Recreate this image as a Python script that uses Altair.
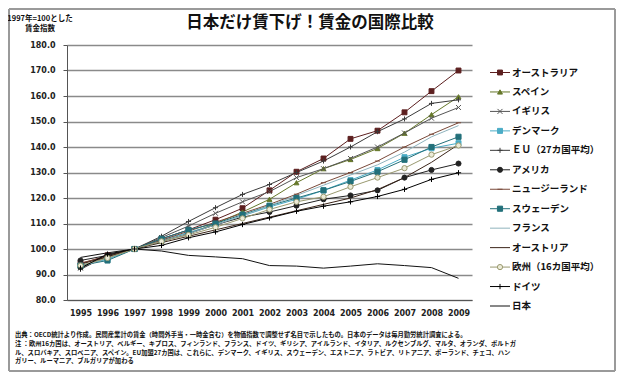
import altair as alt
import pandas as pd

years = [1995, 1996, 1997, 1998, 1999, 2000, 2001, 2002, 2003, 2004, 2005, 2006, 2007, 2008, 2009]

series = ["オーストラリア", "スペイン", "イギリス", "デンマーク", "ＥＵ（27カ国平均）", "アメリカ",
          "ニュージーランド", "スウェーデン", "フランス", "オーストリア", "欧州（16カ国平均）", "ドイツ", "日本"]

australia = [94.2, 97.5, 100, 104.0, 107.5, 111.5, 116.0, 123.0, 130.3, 135.5, 143.2, 146.4, 153.6, 161.9, 170.0]
spain     = [93.0, 96.5, 100, 103.0, 106.0, 110.0, 114.5, 119.5, 126.0, 131.5, 135.1, 139.4, 145.4, 152.7, 159.7]
uk        = [92.5, 97.0, 100, 104.5, 109.0, 114.0, 118.5, 122.5, 128.0, 131.5, 135.5, 140.0, 145.5, 151.3, 155.5]
denmark   = [93.5, 96.0, 100, 103.5, 106.5, 109.5, 113.0, 116.5, 119.5, 123.0, 127.0, 131.0, 136.0, 139.5, 141.5]
eu27      = [92.0, 97.5, 100, 105.0, 110.8, 116.2, 121.4, 125.3, 130.0, 134.5, 140.0, 146.0, 151.0, 157.1, 158.5]
america   = [95.5, 97.5, 100, 103.0, 106.0, 109.5, 112.5, 114.5, 117.0, 119.5, 121.0, 123.0, 128.0, 131.0, 133.5]
nz        = [94.5, 97.0, 100, 103.5, 107.0, 110.5, 114.0, 117.5, 121.5, 126.0, 130.0, 134.5, 140.0, 145.0, 149.5]
sweden    = [93.5, 95.5, 100, 104.0, 107.5, 110.0, 113.5, 117.0, 120.0, 123.0, 126.5, 130.3, 135.0, 140.0, 144.0]
france    = [93.0, 96.5, 100, 103.0, 106.0, 109.5, 113.0, 117.0, 121.0, 125.0, 129.0, 133.0, 138.0, 144.0, 148.4]
austria   = [94.0, 97.0, 100, 102.5, 105.0, 107.5, 110.0, 112.5, 115.0, 117.5, 120.0, 123.3, 128.0, 134.0, 141.0]
europe16  = [93.5, 96.5, 100, 103.0, 105.5, 108.5, 112.0, 115.5, 118.5, 120.5, 124.4, 128.0, 131.7, 137.0, 140.6]
germany   = [92.5, 98.0, 100, 101.4, 104.4, 106.7, 109.6, 112.2, 114.8, 116.8, 118.5, 120.6, 123.4, 127.3, 129.9]
japan     = [96.7, 98.5, 100, 99.2, 97.5, 96.9, 96.2, 93.5, 93.3, 92.5, 93.3, 94.2, 93.5, 92.7, 88.5]

all_values = [australia, spain, uk, denmark, eu27, america, nz, sweden, france, austria, europe16, germany, japan]

colors = ["#5c1f1f", "#66782a", "#555555", "#4bacc6", "#3a3a3a", "#222222",
          "#7a4a3a", "#23707a", "#8fb3bd", "#3b2418", "#9a9a70", "#000000", "#111111"]
fills = ["#5c1f1f", "#66782a", "transparent", "#4bacc6", "transparent", "#222222",
         "transparent", "#23707a", "transparent", "transparent", "#ecebd8", "transparent", "transparent"]
XPATH = "M-1,-1L1,1M-1,1L1,-1"
PLUS = "M-1,0H1M0,-1V1"
DASH = "M-1,0H1"
NONE = "M0,0"
shapes = ["square", "triangle-up", XPATH, "square", PLUS, "circle",
          DASH, "square", NONE, NONE, "circle", PLUS, NONE]
widths = [1, 1, 1, 1, 1, 1, 1, 1, 1.1, 1.1, 1, 1.3, 1.6]
sizes = [24, 28, 22, 24, 22, 8, 22, 24, 1, 1, 22, 30, 1]
no_marker = ["フランス", "オーストリア", "日本"]

title = "日本だけ賃下げ！賃金の国際比較"
ytitle1 = "1997年=100とした"
ytitle2 = "賃金指数"
notes = [
    "出典：OECD統計より作成。民間産業計の賃金（時間外手当・一時金含む）を物価指数で調整せず名目で示したもの。日本のデータは毎月勤労統計調査による。",
    "注 ：欧州16カ国は、オーストリア、ベルギー、キプロス、フィンランド、フランス、ドイツ、ギリシア、アイルランド、イタリア、ルクセンブルグ、マルタ、オランダ、ポルトガ",
    "ル、スロバキア、スロベニア、スペイン。EU加盟27カ国は、これらに、デンマーク、イギリス、スウェーデン、エストニア、ラトビア、リトアニア、ポーランド、チェコ、ハン",
    "ガリー、ルーマニア、ブルガリアが加わる",
]

rows = []
for name, vals in zip(series, all_values):
    for y, v in zip(years, vals):
        rows.append({"series": name, "year": y, "value": v})
df = pd.DataFrame(rows)
pts_df = df[~df["series"].isin(no_marker)]
leg_df = pd.DataFrame({"series": series})

JP = "Noto Sans CJK JP"
color_s = alt.Scale(domain=series, range=colors)
fill_s = alt.Scale(domain=series, range=fills)
shape_s = alt.Scale(domain=series, range=shapes)
width_s = alt.Scale(domain=series, range=widths)
size_s = alt.Scale(domain=series, range=sizes)

xenc = alt.X("year:O", scale=alt.Scale(type="point", padding=0.5),
             axis=alt.Axis(title=None, labelAngle=0, grid=False, ticks=False, labelPadding=9,
                           labelFont="DejaVu Sans", labelFontWeight="bold", labelFontSize=8,
                           labelColor="#222", domainColor="#555", domainWidth=1))
yenc = alt.Y("value:Q", scale=alt.Scale(domain=[80, 180], nice=False),
             axis=alt.Axis(title=None, values=list(range(80, 181, 10)), format=".1f",
                           grid=True, gridColor="#8a8a8a", gridWidth=1.3,
                           domainColor="#555", tickColor="#555", tickSize=4, labelPadding=8,
                           labelFont="DejaVu Sans", labelFontWeight="bold", labelFontSize=8,
                           labelColor="#222"))

lines = alt.Chart(df).mark_line().encode(
    x=xenc, y=yenc,
    color=alt.Color("series:N", scale=color_s, legend=None),
    strokeWidth=alt.StrokeWidth("series:N", scale=width_s, legend=None),
    detail="series:N",
)
points = alt.Chart(pts_df).mark_point(filled=False, opacity=1, strokeWidth=1).encode(
    x=xenc, y=yenc,
    stroke=alt.Stroke("series:N", scale=color_s, legend=None),
    fill=alt.Fill("series:N", scale=fill_s, legend=None),
    shape=alt.Shape("series:N", scale=shape_s, legend=None),
    size=alt.Size("series:N", scale=size_s, legend=None),
)
main = alt.layer(lines, points)

ly = alt.Y("series:N", scale=alt.Scale(type="point", domain=series, range=[27.5, 261], padding=0), axis=None)
leg_rule = alt.Chart(leg_df).mark_rule().encode(
    x=alt.value(423), x2=alt.value(443), y=ly,
    color=alt.Color("series:N", scale=color_s, legend=None),
    strokeWidth=alt.StrokeWidth("series:N", scale=width_s, legend=None),
)
leg_pts = alt.Chart(leg_df[~leg_df["series"].isin(no_marker)]).mark_point(filled=False, opacity=1, strokeWidth=1).encode(
    x=alt.value(433), y=ly,
    stroke=alt.Stroke("series:N", scale=color_s, legend=None),
    fill=alt.Fill("series:N", scale=fill_s, legend=None),
    shape=alt.Shape("series:N", scale=shape_s, legend=None),
    size=alt.Size("series:N", scale=size_s, legend=None),
)
leg_txt = alt.Chart(leg_df).mark_text(align="left", baseline="middle", font=JP, fontSize=9.5,
                                      fontWeight="bold", color="#111").encode(
    x=alt.value(445), y=ly, text="series:N")
legend = alt.layer(leg_rule, leg_pts, leg_txt)


def label(txt, x, y, size, weight="bold", align="left"):
    return alt.Chart(pd.DataFrame({"t": [txt]})).mark_text(
        align=align, baseline="middle", font=JP, fontSize=size, fontWeight=weight, color="#111"
    ).encode(x=alt.value(x), y=alt.value(y), text="t:N")


texts = [
    label(title, 243, -22, 16.5, align="center"),
    label(ytitle1, -27, -26, 7.5, align="center"),
    label(ytitle2, -27, -16, 7.5, align="center"),
]
note_y = [290, 299, 307.5, 316]
for n, yy in zip(notes, note_y):
    texts.append(label(n, -52, yy, 6.3))

frame_df = pd.DataFrame({"a": [0]})
fx0, fx1, fy0, fy1 = -58, 548, -36, 326
frame = alt.layer(
    alt.Chart(frame_df).mark_rule(color="#9a9a9a", strokeWidth=2).encode(
        x=alt.value(fx0), x2=alt.value(fx1), y=alt.value(fy0)),
    alt.Chart(frame_df).mark_rule(color="#9a9a9a", strokeWidth=2).encode(
        x=alt.value(fx0), x2=alt.value(fx1), y=alt.value(fy1)),
    alt.Chart(frame_df).mark_rule(color="#9a9a9a", strokeWidth=2).encode(
        x=alt.value(fx0), y=alt.value(fy0), y2=alt.value(fy1)),
    alt.Chart(frame_df).mark_rule(color="#9a9a9a", strokeWidth=2).encode(
        x=alt.value(fx1), y=alt.value(fy0), y2=alt.value(fy1)),
)

chart = alt.layer(frame, main, legend, *texts).resolve_scale(y="independent").properties(
    width=405, height=255,
    padding={"left": 59, "top": 37, "right": 144, "bottom": 72},
    autosize=alt.AutoSizeParams(type="none"),
).configure_view(stroke=None)

chart.save("out.html", embed_options={"renderer": "svg", "actions": False})
